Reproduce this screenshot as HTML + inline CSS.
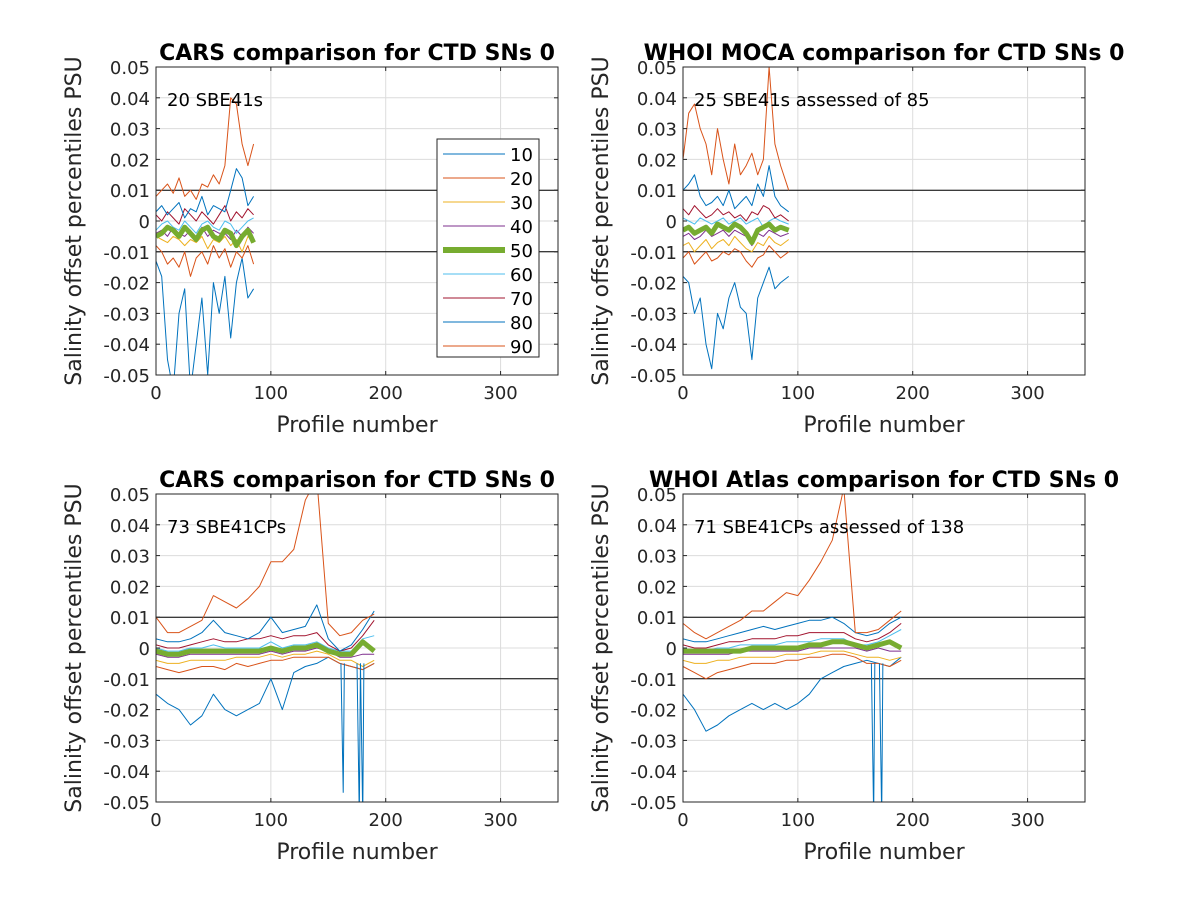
<!DOCTYPE html>
<html><head><meta charset="utf-8"><style>
html,body{margin:0;padding:0;background:#fff;}
svg{display:block;font-family:"DejaVu Sans","Liberation Sans",sans-serif;}
</style></head><body>
<svg id="fig" width="1200" height="900" viewBox="0 0 1200 900"></svg>
<script>
// ---- data (values in 0.001 PSU) ----
const pctLabels = [10,20,30,40,50,60,70,80,90];
const colors = ["#0072BD","#D95319","#EDB120","#7E2F8E","#77AC30","#4DBEEE","#A2142F","#0072BD","#D95319"];
const xTicks = [0,100,200,300];
const yTicks = [0.05,0.04,0.03,0.02,0.01,0,-0.01,-0.02,-0.03,-0.04,-0.05];
const yTickLabels = ["0.05","0.04","0.03","0.02","0.01","0","-0.01","-0.02","-0.03","-0.04","-0.05"];

const xTop = [0,5,10,15,20,25,30,35,40,45,50,55,60,65,70,75,80,85];
const tlP10 = [-13,-18,-45,-55,-30,-22,-55,-40,-25,-50,-20,-30,-18,-38,-20,-12,-25,-22];
const tlP20 = [-8,-10,-14,-12,-15,-10,-18,-12,-10,-14,-8,-12,-9,-15,-10,-12,-8,-14];
const tlP30 = [-5,-6,-7,-5,-6,-8,-6,-7,-5,-9,-6,-7,-5,-8,-6,-10,-5,-7];
const tlP40 = [-4,-3,-5,-2,-4,-5,-3,-6,-2,-5,-3,-4,-4,-6,-3,-5,-2,-4];
const tlP50 = [-5,-4,-2,-3,-5,-2,-4,-6,-3,-2,-5,-6,-3,-4,-8,-5,-3,-7];
const tlP60 = [-3,-1,0,-2,-3,0,-2,-4,-1,0,-2,-3,0,-1,-4,-2,0,1];
const tlP70 = [2,0,3,1,-1,4,2,0,3,1,-1,2,5,0,3,1,4,2];
const tlP80 = [3,5,2,4,6,1,4,3,8,2,5,4,3,10,17,14,5,8];
const tlP90 = [8,10,12,9,14,8,10,7,12,11,15,12,18,40,38,25,18,25];

const xTopR = [0,5,10,15,20,25,30,35,40,45,50,55,60,65,70,75,80,85,92];
const trP10 = [-18,-20,-30,-25,-40,-48,-30,-35,-25,-20,-28,-30,-45,-25,-20,-15,-22,-20,-18];
const trP20 = [-12,-10,-14,-12,-10,-13,-12,-10,-11,-9,-10,-13,-15,-12,-11,-8,-10,-12,-10];
const trP30 = [-8,-7,-10,-8,-6,-9,-7,-6,-8,-5,-7,-9,-10,-7,-8,-5,-7,-8,-6];
const trP40 = [-5,-4,-6,-5,-3,-5,-4,-3,-5,-3,-4,-5,-8,-4,-5,-3,-4,-5,-4];
const trP50 = [-3,-2,-4,-3,-2,-4,-1,-2,-3,-1,-2,-4,-7,-3,-2,-1,-3,-2,-3];
const trP60 = [1,0,-1,1,0,-1,0,1,-1,0,1,-1,0,1,-2,0,1,0,-1];
const trP70 = [4,2,5,3,1,2,4,2,3,1,2,0,3,2,5,4,1,2,0];
const trP80 = [10,12,15,8,5,6,8,5,10,4,6,8,5,12,8,18,8,5,3];
const trP90 = [20,35,38,30,25,15,30,20,12,25,15,18,22,15,20,50,25,18,10];

const xBot = [0,10,20,30,40,50,60,70,80,90,100,110,120,130,140,150,160,170,180,190];
const blP10 = [-15,-18,-20,-25,-22,-15,-20,-22,-20,-18,-10,-20,-8,-6,-5,-3,-5,-6,-7,-5];
const blP20 = [-6,-7,-8,-7,-6,-6,-7,-5,-6,-5,-4,-4,-3,-3,-3,-3,-5,-6,-7,-5];
const blP30 = [-4,-5,-5,-4,-4,-4,-4,-3,-3,-3,-2,-3,-2,-2,-1,-2,-4,-4,-6,-4];
const blP40 = [-2,-3,-3,-2,-2,-2,-2,-2,-2,-2,-1,-2,-1,-1,0,-1,-3,-3,-2,-2];
const blP50 = [-1,-2,-2,-1,-1,-1,-1,-1,-1,-1,0,-1,0,0,1,-1,-2,-2,2,-1];
const blP60 = [0,-1,-1,0,0,1,0,0,0,0,2,0,1,1,2,0,-1,-1,3,4];
const blP70 = [1,0,0,1,2,3,2,2,3,3,4,3,4,4,5,1,-1,0,4,9];
const blP80 = [3,2,2,3,5,9,5,4,3,5,10,5,6,7,14,3,-1,1,6,12];
const blP90 = [10,5,5,7,9,17,15,13,16,20,28,28,32,48,55,8,4,5,9,11];
const blSpikeX = [163,177,180];
const blSpikeY = [-47,-55,-55];

const brP10 = [-15,-20,-27,-25,-22,-20,-18,-20,-18,-20,-18,-15,-10,-8,-6,-5,-4,-5,-6,-3];
const brP20 = [-6,-8,-10,-8,-7,-6,-5,-5,-5,-4,-4,-3,-3,-2,-2,-3,-5,-5,-6,-4];
const brP30 = [-4,-5,-5,-4,-4,-3,-3,-3,-3,-2,-2,-2,-1,-1,-1,-2,-3,-3,-4,-3];
const brP40 = [-2,-2,-2,-2,-2,-1,-1,-1,-1,-1,-1,0,0,0,0,0,-1,0,-1,-1];
const brP50 = [-1,-1,-1,-1,-1,-1,0,0,0,0,0,1,1,2,2,1,0,1,2,0];
const brP60 = [0,-1,-1,0,0,1,1,1,1,2,2,2,3,3,3,1,1,2,4,6];
const brP70 = [1,0,0,1,2,2,3,3,3,4,4,5,5,5,5,3,2,3,5,8];
const brP80 = [3,2,2,3,4,5,6,7,6,7,8,9,9,10,8,5,4,5,8,10];
const brP90 = [8,5,3,5,7,9,12,12,15,18,17,22,28,35,52,5,5,6,9,12];
const brSpikeX = [166,173];
const brSpikeY = [-55,-55];

const panels = [
  {name:"cars-top", x0:156, y0:67, title:"CARS comparison for CTD SNs 0", note:"20 SBE41s", xs:xTop,
   series:[tlP10,tlP20,tlP30,tlP40,tlP50,tlP60,tlP70,tlP80,tlP90], sx:[], sy:[], legend:true},
  {name:"moca-top", x0:683, y0:67, title:"WHOI MOCA comparison for CTD SNs 0", note:"25 SBE41s assessed of 85", xs:xTopR,
   series:[trP10,trP20,trP30,trP40,trP50,trP60,trP70,trP80,trP90], sx:[], sy:[]},
  {name:"cars-bottom", x0:156, y0:494, title:"CARS comparison for CTD SNs 0", note:"73 SBE41CPs", xs:xBot,
   series:[blP10,blP20,blP30,blP40,blP50,blP60,blP70,blP80,blP90], sx:blSpikeX, sy:blSpikeY},
  {name:"atlas-bottom", x0:683, y0:494, title:"WHOI Atlas comparison for CTD SNs 0", note:"71 SBE41CPs assessed of 138", xs:xBot,
   series:[brP10,brP20,brP30,brP40,brP50,brP60,brP70,brP80,brP90], sx:brSpikeX, sy:brSpikeY}
];

const NS="http://www.w3.org/2000/svg";
const svg=document.getElementById("fig");
function mk(tag,attrs,parent){const e=document.createElementNS(NS,tag);for(const k in attrs)e.setAttribute(k,attrs[k]);(parent||svg).appendChild(e);return e;}
const W=402,H=308;

panels.forEach(p=>{
  const g=mk("g",{});
  
  
  const X=v=>p.x0+v/350*W;
  const Y=v=>p.y0+(0.05-v)/0.1*H;
  const clipId="clip-"+p.name;
  const cp=mk("clipPath",{id:clipId},g);
  mk("rect",{x:p.x0,y:p.y0,width:W,height:H},cp);
  xTicks.forEach(t=>{ if(t>0){const l=mk("line",{x1:X(t),x2:X(t),y1:p.y0,y2:p.y0+H,stroke:"#dcdcdc","stroke-width":1},g);
     }});
  yTicks.forEach(t=>{const l=mk("line",{x1:p.x0,x2:p.x0+W,y1:Y(t),y2:Y(t),stroke:"#dcdcdc","stroke-width":1},g);
     });
  const dg=mk("g",{"clip-path":"url(#"+clipId+")"},g);
   
  [0.01,-0.01].forEach(v=>{const l=mk("line",{x1:p.x0,x2:p.x0+W,y1:Y(v),y2:Y(v),stroke:"#000","stroke-width":1},dg);
     });
  const order=[0,1,2,3,5,6,7,8,4];
  order.forEach(i=>{
    const s=p.series[i];
    const pts=s.map((v,k)=>X(p.xs[k]).toFixed(1)+","+Y(v/1000).toFixed(1)).join(" ");
    const pl=mk("polyline",{points:pts,fill:"none",stroke:colors[i],"stroke-width":i===4?5:1,"stroke-linejoin":"round"},dg);
    
    
  });
  p.sx.forEach((sx,k)=>{
    const l=mk("polyline",{points:X(sx-2)+","+Y(-0.005)+" "+X(sx)+","+Y(p.sy[k]/1000)+" "+X(sx+1)+","+Y(-0.005),fill:"none",stroke:colors[0],"stroke-width":1},dg);
     
  });
  const b=mk("rect",{x:p.x0,y:p.y0,width:W,height:H,fill:"none",stroke:"#262626","stroke-width":1},g);
   
  xTicks.forEach(t=>{
    mk("line",{x1:X(t),x2:X(t),y1:p.y0+H,y2:p.y0+H-4,stroke:"#262626"},g);
    mk("line",{x1:X(t),x2:X(t),y1:p.y0,y2:p.y0+4,stroke:"#262626"},g);
    const tx=mk("text",{x:X(t),y:p.y0+H+24,"text-anchor":"middle","font-size":18,fill:"#262626"},g);
    tx.textContent=t;
     
  });
  yTicks.forEach((t,k)=>{
    mk("line",{x1:p.x0,x2:p.x0+4,y1:Y(t),y2:Y(t),stroke:"#262626"},g);
    mk("line",{x1:p.x0+W,x2:p.x0+W-4,y1:Y(t),y2:Y(t),stroke:"#262626"},g);
    const tx=mk("text",{x:p.x0-6,y:Y(t)+7,"text-anchor":"end","font-size":18,fill:"#262626"},g);
    tx.textContent=yTickLabels[k];
     
  });
  const ti=mk("text",{x:p.x0+W/2,y:p.y0-7,"text-anchor":"middle","font-size":22,"font-weight":"bold",fill:"#000"},g);
  ti.textContent=p.title;
   
  const no=mk("text",{x:p.x0+11,y:p.y0+39,"font-size":18,fill:"#000"},g);
  no.textContent=p.note;
   
  const xl=mk("text",{x:p.x0+W/2,y:p.y0+H+57,"text-anchor":"middle","font-size":22,fill:"#262626"},g);
  xl.textContent="Profile number";
   
  const cy=p.y0+H/2, cx=p.x0-75;
  const yl=mk("text",{x:cx,y:cy,"text-anchor":"middle","font-size":22,fill:"#262626",transform:"rotate(-90 "+cx+" "+cy+")"},g);
  yl.textContent="Salinity offset percentiles PSU";
   
  if(p.legend){
    const lg=mk("g",{},g);
     
    mk("rect",{x:437,y:139,width:102,height:218,fill:"#fff",stroke:"#262626","stroke-width":1},lg);
    pctLabels.forEach((lab,i)=>{
      const yy=154+i*24;
      const e=mk("g",{},lg);
       
      mk("line",{x1:443,x2:505,y1:yy,y2:yy,stroke:colors[i],"stroke-width":i===4?6:1},e);
      const t=mk("text",{x:510,y:yy+7,"font-size":18,fill:"#000"},e);
      t.textContent=lab;
    });
  }
});
</script>
</body></html>
